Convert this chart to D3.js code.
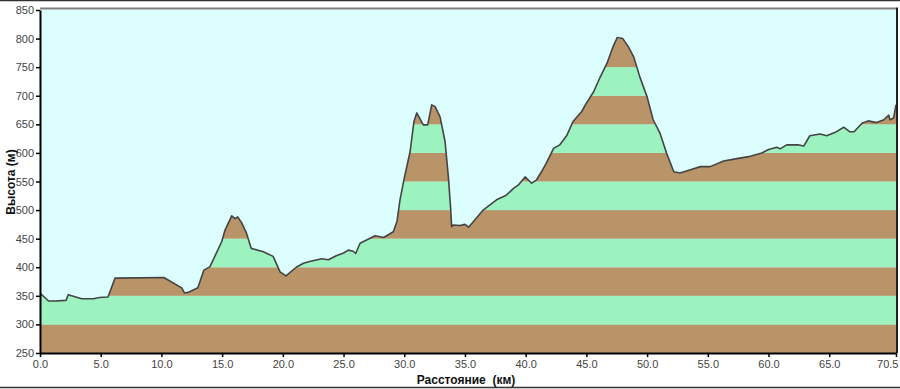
<!DOCTYPE html>
<html>
<head>
<meta charset="utf-8">
<script src="https://cdn.jsdelivr.net/npm/d3@7"></script>
<style>
  body { margin: 0; background: #fff; }
  svg text { font-family: "Liberation Sans", Arial, sans-serif; }
</style>
</head>
<body>
<svg id="chart" width="900" height="389"></svg>
<script>
// distance along route (km)
var distKm = [0, 0.7, 1.24, 2.14, 2.33, 3.43, 4.4, 4.9, 5.6, 6.18, 10.2, 11.67, 11.9, 12.2, 13.0,
  13.5, 14.0, 14.97, 15.24, 15.79, 16.06, 16.28, 16.6, 17.0, 17.4, 18.4, 19.2, 19.77, 20.26,
  21.1, 21.7, 22.2, 23.2, 23.75, 24.4, 25.0, 25.4, 25.8, 26.0, 26.36, 27.6, 28.3, 29.1, 29.4,
  29.65, 30.0, 30.48, 30.8, 31.03, 31.57, 31.93, 32.26, 32.54, 32.95, 33.36, 33.63, 33.83,
  33.9, 34.05, 34.6, 35.0, 35.3, 35.7, 36.5, 37.6, 38.4, 39.0, 39.4, 39.95, 40.5, 40.9, 41.3,
  41.7, 42.3, 42.8, 43.4, 43.9, 44.6, 45.0, 45.6, 46.1, 46.7, 47.2, 47.55, 48.0, 48.45, 48.9,
  49.4, 50.0, 50.5, 51.07, 51.6, 52.2, 52.7, 53.5, 54.4, 55.2, 56.3, 57.4, 58.5, 59.45, 60.0,
  60.7, 60.96, 61.5, 62.5, 62.9, 63.4, 64.25, 64.8, 65.5, 66.2, 66.7, 67.05, 67.7, 68.2, 68.9,
  69.5, 69.9, 70.0, 70.3, 70.5]
// elevation (m)
var elevM = [355, 341, 341, 342, 352, 345, 345, 347, 348, 381, 382, 364, 355, 356, 364,
  395, 401, 445, 465, 490, 485, 488, 478, 460, 433, 427, 419, 392, 385,
  400, 407, 410, 415, 413, 420, 425, 430, 428, 424, 442, 455, 452, 462, 480,
  518, 556, 602, 655, 670, 649, 649, 684, 681, 663, 620, 559, 500,
  471, 474, 473, 475, 470, 480, 500, 518, 526, 538, 544, 558, 547, 553, 567,
  582, 608, 614, 631, 655, 672, 687, 707, 731, 757, 786, 802, 800, 786, 768,
  733, 698, 658, 634, 600, 567, 565, 570, 576, 576, 586, 590, 594, 600, 606,
  610, 607, 614, 614, 612, 630, 633, 630, 636, 645, 637, 637, 652, 656, 653,
  658, 666, 658, 661, 684]

var xTicks = [0, 5, 10, 15, 20, 25, 30, 35, 40, 45, 50, 55, 60, 65, 70.5]
var yTicks = [250, 300, 350, 400, 450, 500, 550, 600, 650, 700, 750, 800, 850]
var bandStarts = [250, 300, 350, 400, 450, 500, 550, 600, 650, 700, 750, 800]
var bandColors = ['#b99469', '#9cf3c0']

var svg = d3.select('#chart')
var plotLeft = 40, plotRight = 896, plotTop = 10, plotBottom = 353

var x = d3.scaleLinear().domain([0, 70.5]).range([plotLeft, plotRight])
var y = d3.scaleLinear().domain([250, 850]).range([plotBottom, plotTop])

var pts = distKm.map(function (d, i) { return { km: d, h: elevM[i] } })

// outer frame lines
svg.append('line').attr('x1', 0).attr('x2', 900).attr('y1', 0.5).attr('y2', 0.5)
  .attr('stroke', '#333').attr('stroke-width', 1.5)
svg.append('line').attr('x1', 0).attr('x2', 900).attr('y1', 387.5).attr('y2', 387.5)
  .attr('stroke', '#333').attr('stroke-width', 1.5)

// sky
svg.append('rect').attr('x', plotLeft).attr('y', plotTop)
  .attr('width', plotRight - plotLeft).attr('height', plotBottom - plotTop)
  .attr('fill', '#dcfefe')

var area = d3.area()
  .x(function (d) { return x(d.km) })
  .y0(plotBottom)
  .y1(function (d) { return y(d.h) })

svg.append('clipPath').attr('id', 'ground')
  .append('path').attr('d', area(pts))

svg.append('g').attr('clip-path', 'url(#ground)')
  .selectAll('rect').data(bandStarts).enter().append('rect')
  .attr('x', plotLeft)
  .attr('width', plotRight - plotLeft)
  .attr('y', function (d) { return y(d + 50) })
  .attr('height', function (d) { return y(d) - y(d + 50) })
  .attr('fill', function (d, i) { return bandColors[i % 2] })

var line = d3.line()
  .x(function (d) { return x(d.km) })
  .y(function (d) { return y(d.h) })

svg.append('path').attr('d', line(pts))
  .attr('fill', 'none').attr('stroke', '#444').attr('stroke-width', 1.6)
  .attr('stroke-linejoin', 'round')

// plot borders
svg.append('line').attr('x1', plotLeft).attr('x2', plotRight)
  .attr('y1', plotTop - 1.5).attr('y2', plotTop - 1.5)
  .attr('stroke', '#808080').attr('stroke-width', 2)
svg.append('line').attr('x1', plotRight + 1).attr('x2', plotRight + 1)
  .attr('y1', plotTop - 2.5).attr('y2', plotBottom)
  .attr('stroke', '#222').attr('stroke-width', 2)

// axes
var xAxis = d3.axisBottom(x).tickValues(xTicks).tickSize(4).tickSizeOuter(0)
  .tickFormat(d3.format('.1f'))
var gx = svg.append('g').attr('transform', 'translate(0,' + plotBottom + ')').call(xAxis)
gx.select('.domain').attr('stroke', '#000').attr('stroke-width', 2)
gx.selectAll('.tick line').attr('stroke', '#000').attr('stroke-width', 1.5)
gx.selectAll('.tick text').attr('fill', '#444').attr('font-size', 11).attr('y', 7)
gx.selectAll('.tick text').filter(function (d) { return d === 70.5 })
  .attr('text-anchor', 'end').attr('x', 2)

var yAxis = d3.axisLeft(y).tickValues(yTicks).tickSize(4).tickSizeOuter(0)
var gy = svg.append('g').attr('transform', 'translate(' + plotLeft + ',0)').call(yAxis)
gy.select('.domain').attr('stroke', '#000').attr('stroke-width', 2)
gy.selectAll('.tick line').attr('stroke', '#000').attr('stroke-width', 1.5)
gy.selectAll('.tick text').attr('fill', '#444').attr('font-size', 11).attr('x', -6)

// axis titles
svg.append('text').attr('x', 466).attr('y', 384).attr('text-anchor', 'middle')
  .attr('font-size', 12).attr('font-weight', 'bold').attr('fill', '#111')
  .style('white-space', 'pre').text('Расстояние  (км)')
svg.append('text').attr('transform', 'translate(15,182) rotate(-90)').attr('text-anchor', 'middle')
  .attr('font-size', 12).attr('font-weight', 'bold').attr('fill', '#111')
  .text('Высота (м)')
</script>
</body>
</html>
